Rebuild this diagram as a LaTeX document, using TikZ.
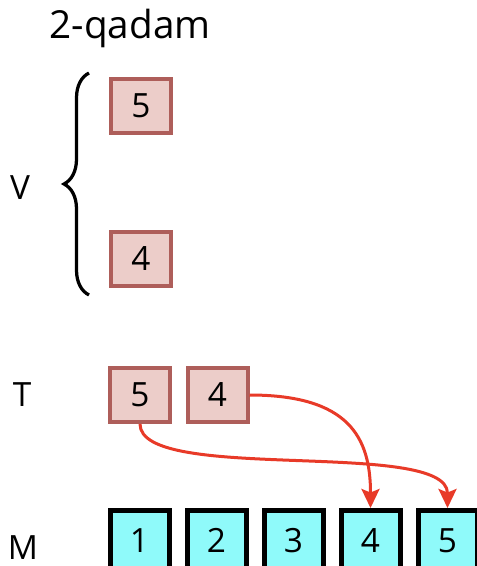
\documentclass[tikz,border=0pt]{standalone}
\usepackage{fontspec}
\setmainfont{Open Sans}
\usetikzlibrary{arrows.meta, decorations.pathreplacing}
\definecolor{boxpink}{RGB}{236,205,201}
\definecolor{boxedge}{RGB}{174,94,90}
\definecolor{boxcyan}{RGB}{143,250,250}
\definecolor{arrowred}{RGB}{232,58,40}

\begin{document}
\begin{tikzpicture}[
    font=\fontsize{19}{22}\selectfont,
    vbox/.style={rectangle, % pink box of V and T
       line width=0.08cm,
       draw=boxedge,
       fill=boxpink,
       inner sep=0pt,
       minimum width=1.2cm,
       minimum height=1.08cm},
    mbox/.style={rectangle, % cyan box of M
       line width=0.1cm,
       draw=black,
       fill=boxcyan,
       inner sep=0pt,
       minimum width=1.18cm,
       minimum height=1.2cm},
    move/.style={draw=arrowred, line width=0.06cm,
       -{Stealth[length=0.38cm, width=0.36cm, inset=0.07cm]}}
  ]
    \useasboundingbox (0, 0) rectangle (9.52, -11.32); % fixed margins

    % 1. title
    \node [font=\fontsize{22}{26}\selectfont] (title) at (2.6, -0.56) {2-qadam};

    % 2. V: two boxes with a brace
    \node [vbox] (v5) at (2.82, -2.12) {5};
    \node [vbox] (v4) at (2.82, -5.18) {4};
    \coordinate (bracetop) at (1.78, -1.46);
    \coordinate (bracebot) at (1.78, -5.90);
    \draw [line width=0.065cm, decorate,
       decoration={brace, amplitude=0.5cm, aspect=0.5}] (bracebot) -- (bracetop);
    \node (vlabel) at (0.40, -3.76) {V};

    % 3. T: two boxes side by side
    \node [vbox] (t5) at (2.80, -7.90) {5};
    \node [vbox] (t4) at (4.35, -7.90) {4};
    \node (tlabel) at (0.44, -7.90) {T};

    % 4. M: row of five boxes
    \node [mbox] (m1) at (2.79, -10.81) {1};
    \node [mbox] (m2) at (4.33, -10.81) {2};
    \node [mbox] (m3) at (5.87, -10.81) {3};
    \node [mbox] (m4) at (7.41, -10.81) {4};
    \node [mbox] (m5) at (8.95, -10.81) {5};
    \node (mlabel) at (0.46, -10.95) {M};

    % 5. arrows from T to M
    \draw [move] (t4.east) .. controls +(2.0, 0) and +(0, 1.4) .. (m4.north);
    \draw [move] (t5.south) .. controls +(0, -1.2) and +(0, 1.4) .. (m5.north);
\end{tikzpicture}
\end{document}
